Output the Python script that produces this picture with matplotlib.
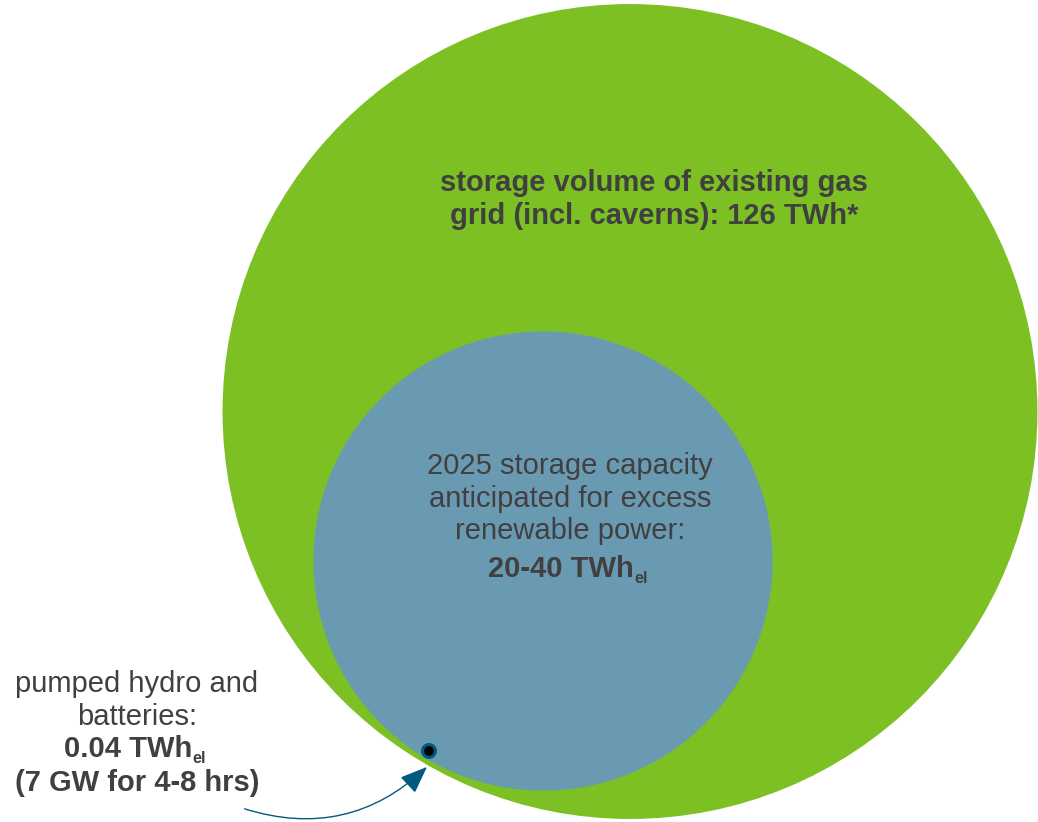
import numpy as np
import matplotlib
matplotlib.use("Agg")
import matplotlib.pyplot as plt
from matplotlib.patches import Circle, FancyArrowPatch

# Storage capacities (TWh) shown as nested circles with area proportional to value
storage_names = ["existing gas grid", "2025 excess renewables", "pumped hydro and batteries"]
storage_twh = [126, 40, 0.04]

gas_lines = ["storage volume of existing gas", "grid (incl. caverns): 126 TWh*"]
renew_lines = ["2025 storage capacity", "anticipated for excess", "renewable power:"]
renew_value = "20-40 TWh"
hydro_lines = ["pumped hydro and", "batteries:"]
hydro_value = "0.04 TWh"
hydro_note = "(7 GW for 4-8 hrs)"

GREEN = "#7CC024"
BLUE = "#6A9AB2"
DARK_BLUE = "#005A80"
TEXT = "#404040"
FONT = "Liberation Sans"
FS = 21

W, H = 1038, 822
fig = plt.figure(figsize=(W / 100, H / 100), dpi=100)
ax = fig.add_axes([0, 0, 1, 1])
ax.set_xlim(0, W)
ax.set_ylim(H, 0)
ax.set_aspect("equal")
ax.axis("off")

k = 36.3  # px per sqrt(TWh)
radii = [k * np.sqrt(v) for v in storage_twh]

# circle centres (px, y downwards)
big_c = (630.0, 411.5)
mid_c = (543.0, 561.0)
small_c = (429.0, 751.0)

ax.add_patch(Circle(big_c, radii[0], facecolor=GREEN, edgecolor="none", zorder=1))
ax.add_patch(Circle(mid_c, radii[1], facecolor=BLUE, edgecolor="none", zorder=2))
ax.add_patch(Circle(small_c, radii[2] - 0.8, facecolor="black", edgecolor=DARK_BLUE,
                    linewidth=2.2, zorder=4))

# Labels
for i, line in enumerate(gas_lines):
    ax.text(654, 183 + 32.5 * i, line, ha="center", va="center", fontsize=FS,
            fontweight="bold", color=TEXT, family=FONT, zorder=5)

for i, line in enumerate(renew_lines):
    ax.text(570, 466 + 32.5 * i, line, ha="center", va="center", fontsize=FS,
            color=TEXT, family=FONT, zorder=5)


def value_with_sub(x, y, main, size):
    t = ax.text(x - 9, y, main, ha="center", va="center", fontsize=size,
                fontweight="bold", color=TEXT, family=FONT, zorder=5)
    ax.annotate("el", xy=(1, 0), xycoords=t, xytext=(0.5, 3.5), textcoords="offset points",
                ha="left", va="center", fontsize=size * 0.56, fontweight="bold",
                color=TEXT, family=FONT, zorder=5)
    return t


value_with_sub(570, 569, renew_value, FS)

for i, line in enumerate(hydro_lines):
    ax.text(137, 684 + 32.5 * i, line, ha="center", va="center", fontsize=FS,
            color=TEXT, family=FONT, zorder=5)
value_with_sub(137, 749, hydro_value, FS)
ax.text(137, 783, hydro_note, ha="center", va="center", fontsize=FS,
        fontweight="bold", color=TEXT, family=FONT, zorder=5)

arrow = FancyArrowPatch((242, 808), (429, 765), connectionstyle="arc3,rad=0.3",
                        arrowstyle="-|>,head_length=17,head_width=6.7",
                        mutation_scale=1, color=DARK_BLUE, linewidth=1.0, zorder=6)
ax.add_patch(arrow)

fig.savefig("out.png", dpi=100, facecolor="white")
